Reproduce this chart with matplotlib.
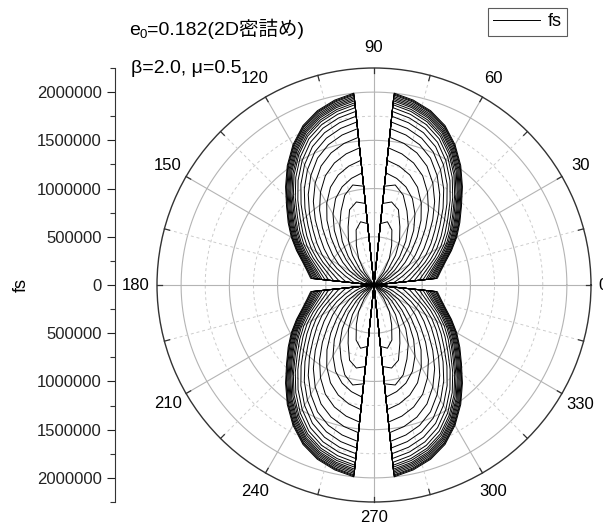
import numpy as np
import matplotlib
matplotlib.use('Agg')
import matplotlib.pyplot as plt
from matplotlib.ticker import MultipleLocator, FuncFormatter

plt.rcParams['font.family'] = ['Liberation Sans', 'Noto Sans CJK JP']

# sample angles of the first quadrant (deg); other quadrants are mirror images
angles_q = [0, 6, 12, 18, 24, 30, 36, 42, 48, 54, 60, 66, 72, 78, 84, 90]

# fs in units of 1e4, one row per curve (outermost first)
fs_rows = [
    [0, 66, 71, 78, 88, 99, 110, 122, 137, 153, 168, 181, 190, 196, 200, 0],
    [0, 65, 70, 77, 87, 98, 109, 121, 136, 152, 167, 180, 189, 195, 199, 0],
    [0, 64, 69, 76, 86, 97, 108, 120, 135, 151, 166, 179, 188, 194, 198, 0],
    [0, 62.5, 67.5, 74.5, 84.5, 95.5, 106.5, 118.5, 133.5, 149.5, 164.5, 177.5, 186.5, 192.5, 196.5, 0],
    [0, 61, 66, 73, 83, 94, 105, 117, 132, 148, 163, 176, 185, 191, 195, 0],
    [0, 59.5, 64.5, 71.5, 81.5, 92.5, 103.5, 115.5, 130.5, 146.5, 161.5, 174.5, 183.5, 189.5, 193.5, 0],
    [0, 58, 63, 70, 80, 91, 102, 114, 129, 145, 160, 173, 182, 188, 192, 0],
    [0, 56, 61, 68, 78, 89, 100, 112, 127, 143, 158, 171, 180, 186, 190, 0],
    [0, 54, 59, 66, 76, 87, 98, 110, 125, 141, 156, 169, 178, 184, 188, 0],
    [0, 51, 56, 63, 73, 84, 95, 107, 122, 138, 153, 166, 175, 181, 185, 0],
    [0, 47, 52, 59, 69, 80, 91, 103, 118, 134, 149, 162, 171, 177, 181, 0],
    [0, 42, 47, 54, 64, 75, 86, 98, 113, 129, 144, 157, 166, 172, 176, 0],
    [0, 36, 41, 48, 58, 69, 80, 92, 107, 123, 138, 151, 160, 166, 170, 0],
    [0, 29, 34, 41, 51, 62, 73, 85, 100, 116, 131, 144, 153, 159, 163, 0],
    [0, 20, 25, 32, 42, 53, 64, 76, 91, 107, 122, 135, 144, 150, 154, 0],
    [0, 9, 14, 21, 31, 42, 53, 65, 80, 96, 111, 124, 133, 139, 143, 0],
    [0, 0, 1, 8, 18, 29, 40, 52, 67, 83, 98, 111, 120, 126, 130, 0],
    [0, 0, 0, 0, 5, 16, 27, 39, 54, 70, 85, 98, 107, 113, 117, 0],
    [0, 0, 0, 0, 0, 2, 13, 25, 40, 56, 71, 84, 98, 106, 103, 0],
    [0, 0, 0, 0, 0, 0, 0, 7, 22, 38, 53, 66, 82, 88, 85, 0],
    [0, 0, 0, 0, 0, 0, 0, 0, 1, 17, 32, 45, 60, 67, 64, 0],
]

angle_labels = [0, 30, 60, 90, 120, 150, 180, 210, 240, 270, 300, 330]
r_max = 2.25e6

fig = plt.figure(figsize=(6.03, 5.28), dpi=100)
ax = fig.add_axes([157 / 603, 26 / 528, 434 / 603, 434 / 528], projection='polar')
ax.set_ylim(0, r_max)
ax.grid(False)
ax.set_xticks([])
ax.set_yticks([])
ax.spines['polar'].set_color('#333333')
ax.spines['polar'].set_linewidth(1.0)

# grid: solid every 30 deg / 500000, dashed in between
full = np.linspace(0, 2 * np.pi, 400)
for k in range(1, 9):
    rr = k * 250000
    if k % 2 == 0:
        ax.plot(full, np.full_like(full, rr), color='#b4b4b4', lw=0.8, zorder=1)
    else:
        ax.plot(full, np.full_like(full, rr), color='#cccccc', lw=0.7, ls=(0, (3, 3)), zorder=1)
for a in range(0, 360, 15):
    th = np.deg2rad(a)
    if a % 30 == 0:
        ax.plot([th, th], [0, r_max], color='#b4b4b4', lw=0.8, zorder=1)
    else:
        ax.plot([th, th], [0, r_max], color='#cccccc', lw=0.7, ls=(0, (3, 3)), zorder=1)
    ax.plot([th, th], [r_max - 55000, r_max], color='#333333', lw=0.9, zorder=3, clip_on=False)

# curves
th_q = np.array(angles_q, dtype=float)
th_full = np.concatenate([th_q, 180 - th_q[14::-1], 180 + th_q[1:], 360 - th_q[14::-1]])
lines = []
for row in fs_rows:
    vals = row + row[14::-1] + row[1:] + row[14::-1]
    ln, = ax.plot(np.deg2rad(th_full), np.array(vals) * 1e4, color='black', lw=0.7, zorder=2)
    lines.append(ln)

# angle labels
for a in angle_labels:
    if a == 0:
        ax.text(0, r_max * 224 / 217, '0', ha='left', va='center', fontsize=12, clip_on=False)
    elif a == 270:
        ax.text(np.deg2rad(a), r_max * 233 / 217, str(a), ha='center', va='center',
                fontsize=12, clip_on=False)
    else:
        ax.text(np.deg2rad(a), r_max * 238 / 217, str(a), ha='center', va='center',
                fontsize=12, clip_on=False)

# left radial scale
ax2 = fig.add_axes([115 / 603, 26 / 528, 0.001, 434 / 528])
ax2.set_ylim(-r_max, r_max)
ax2.set_xticks([])
for s in ['top', 'right', 'bottom']:
    ax2.spines[s].set_visible(False)
ax2.spines['left'].set_color('#333333')
ax2.patch.set_visible(False)
ax2.yaxis.set_major_locator(MultipleLocator(500000))
ax2.yaxis.set_minor_locator(MultipleLocator(250000))
ax2.yaxis.set_major_formatter(FuncFormatter(lambda v, p: f"{abs(int(round(v)))}"))
ax2.tick_params(axis='y', which='major', length=6, width=0.8, labelsize=12, colors='#222222')
ax2.tick_params(axis='y', which='minor', length=3.5, width=0.8, colors='#333333')
ax2.set_ylabel('fs', fontsize=13, labelpad=5)

# annotations
t_e = fig.text(129 / 603, 1 - 35 / 528, 'e', fontsize=14, va='baseline')
t_sub = ax.annotate('0', xy=(1, 0), xycoords=t_e, xytext=(0, -1.5), textcoords='offset points',
                    fontsize=9.5, va='bottom', ha='left', annotation_clip=False)
ax.annotate('=0.182(2D密詰め)', xy=(1, 0), xycoords=(t_sub, t_e), fontsize=14,
            va='bottom', ha='left', annotation_clip=False)
fig.text(131 / 603, 1 - 69 / 528, 'β=2.0, μ=0.5', fontsize=14, va='center')

leg = fig.legend([lines[0]], ['fs'], loc='upper left', bbox_to_anchor=(488 / 603, 1 - 8 / 528),
                 fancybox=False, edgecolor='#333333', fontsize=13, handlelength=2.6,
                 handletextpad=0.4, borderpad=0.3, borderaxespad=0)
leg.get_frame().set_linewidth(0.8)

fig.savefig('out.png', dpi=100)
